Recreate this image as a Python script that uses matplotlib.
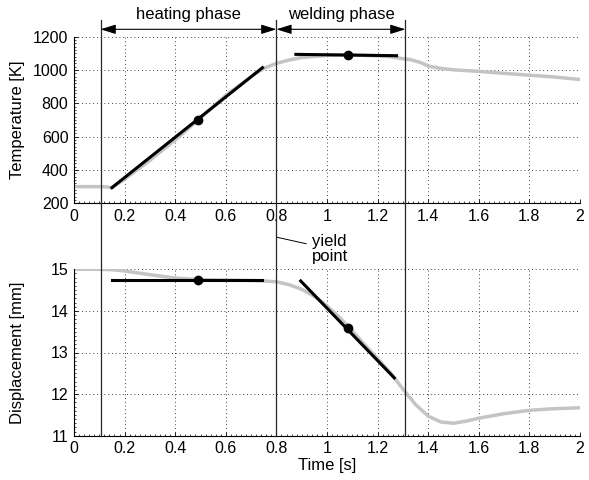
import matplotlib
matplotlib.use('Agg')
import matplotlib.pyplot as plt
from matplotlib.ticker import MultipleLocator, FuncFormatter

plt.rcParams['font.family'] = ['Liberation Sans', 'DejaVu Sans']
plt.rcParams['font.size'] = 11.5

# measured temperature (grey curve)
temp_t = [0, 0.1, 0.13, 0.15, 0.2, 0.3, 0.4, 0.5, 0.6, 0.7, 0.75, 0.8, 0.85, 0.9,
          1.0, 1.1, 1.2, 1.25, 1.3, 1.33, 1.37, 1.4, 1.45, 1.5, 1.6, 1.7, 1.8, 1.9, 2.0]
temp_K = [300, 300, 298, 294, 345, 458, 580, 712, 848, 960, 1010, 1040, 1060, 1075,
          1088, 1090, 1085, 1080, 1068, 1062, 1045, 1024, 1010, 1001, 992, 980, 969, 958, 943]

# measured displacement (grey curve)
disp_t = [0, 0.1, 0.15, 0.2, 0.3, 0.4, 0.5, 0.6, 0.7, 0.75, 0.8, 0.85, 0.9, 0.95, 1.0,
          1.05, 1.1, 1.15, 1.2, 1.25, 1.3, 1.35, 1.4, 1.45, 1.5, 1.55, 1.6, 1.7, 1.8, 1.9, 2.0]
disp_mm = [15.0, 15.0, 14.99, 14.96, 14.87, 14.79, 14.75, 14.74, 14.73, 14.72, 14.70,
           14.63, 14.52, 14.35, 14.12, 13.84, 13.52, 13.18, 12.85, 12.52, 12.12, 11.75,
           11.47, 11.33, 11.30, 11.35, 11.42, 11.53, 11.61, 11.65, 11.67]

# linear fits per phase: (t_start, t_end) and values at the ends
heat_fit_t = [0.15, 0.745]
heat_fit_K = [294, 1014]
heat_mid = (0.49, 700)
weld_fit_t = [0.877, 1.275]
weld_fit_K = [1094, 1086]
weld_mid = (1.084, 1090)

heat_disp_t = [0.15, 0.745]
heat_disp_mm = [14.75, 14.75]
heat_disp_mid = (0.49, 14.75)
weld_disp_t = [0.896, 1.266]
weld_disp_mm = [14.72, 12.39]
weld_disp_mid = (1.084, 13.6)

# phase boundaries
phase_bounds = [0.105, 0.8, 1.31]
phase_names = ['heating phase', 'welding phase']
yield_t = 0.8

W, H = 589, 480
fig = plt.figure(figsize=(W / 100, H / 100), dpi=100)

left, width = 74 / W, 506 / W
ax1 = fig.add_axes([left, 1 - 203.3 / H, width, 166.6 / H])
ax2 = fig.add_axes([left, 1 - 435.7 / H, width, 166.4 / H])

grey = '#c4c4c4'


def style(ax):
    ax.set_xlim(0, 2)
    ax.xaxis.set_major_locator(MultipleLocator(0.2))
    ax.xaxis.set_major_formatter(FuncFormatter(lambda v, p: ('%g' % round(v, 2))))
    ax.grid(True, color='k', linestyle=(0, (1, 3.5)), linewidth=0.6)
    ax.spines['top'].set_visible(False)
    ax.spines['right'].set_visible(False)
    ax.tick_params(which='major', direction='in', length=3, width=0.6, pad=4)
    ax.tick_params(which='minor', direction='in', length=1.5, width=0.5)
    ax.tick_params(axis='both', labelsize=11.5)
    ax.xaxis.set_minor_locator(MultipleLocator(0.02))
    for s in ['left', 'bottom']:
        ax.spines[s].set_linewidth(0.8)


ax1.plot(temp_t, temp_K, color=grey, lw=2.5, zorder=2)
ax1.plot(heat_fit_t, heat_fit_K, color='k', lw=2.2, zorder=3)
ax1.plot(weld_fit_t, weld_fit_K, color='k', lw=2.2, zorder=3)
ax1.plot(*heat_mid, 'o', color='k', ms=6, zorder=4)
ax1.plot(*weld_mid, 'o', color='k', ms=6, zorder=4)
ax1.set_ylim(200, 1200)
ax1.yaxis.set_major_locator(MultipleLocator(200))
ax1.yaxis.set_minor_locator(MultipleLocator(20))
ax1.set_ylabel('Temperature [K]', fontsize=12)
style(ax1)

ax2.plot(disp_t, disp_mm, color=grey, lw=2.5, zorder=2)
ax2.plot(heat_disp_t, heat_disp_mm, color='k', lw=2.2, zorder=3)
ax2.plot(weld_disp_t, weld_disp_mm, color='k', lw=2.2, zorder=3)
ax2.plot(*heat_disp_mid, 'o', color='k', ms=6, zorder=4)
ax2.plot(*weld_disp_mid, 'o', color='k', ms=6, zorder=4)
ax2.set_ylim(11, 15)
ax2.yaxis.set_major_locator(MultipleLocator(1))
ax2.yaxis.set_minor_locator(MultipleLocator(0.1))
ax2.set_ylabel('Displacement [mm]', fontsize=12)
ax2.set_xlabel('Time [s]', fontsize=12, labelpad=1)
style(ax2)

for ax in (ax1, ax2):
    ax.yaxis.set_label_coords(-0.097, 0.5)

# overlay spanning the whole figure height, x in data units, y in pixels
ov = fig.add_axes([left, 0, width, 1], zorder=5)
ov.set_xlim(0, 2)
ov.set_ylim(H, 0)
ov.axis('off')
ov.patch.set_alpha(0)

for b in phase_bounds:
    ov.plot([b, b], [20, 435.7], color='0.15', lw=0.9)

for i, name in enumerate(phase_names):
    a, b = phase_bounds[i], phase_bounds[i + 1]
    ov.annotate('', xy=(a, 29.3), xytext=(b, 29.3),
                arrowprops=dict(arrowstyle='<|-|>,head_length=0.8,head_width=0.25',
                                color='k', lw=0.8, shrinkA=0, shrinkB=0))
    ov.text((a + b) / 2, 14, name, ha='center', va='center', fontsize=12)

ov.annotate('yield\npoint', xy=(yield_t + 0.003, 237.3), xytext=(yield_t + 0.14, 249),
            ha='left', va='center', fontsize=12, linespacing=1.0,
            arrowprops=dict(arrowstyle='-', color='k', lw=0.7, shrinkA=2, shrinkB=0))

fig.savefig('out.png', dpi=100)
